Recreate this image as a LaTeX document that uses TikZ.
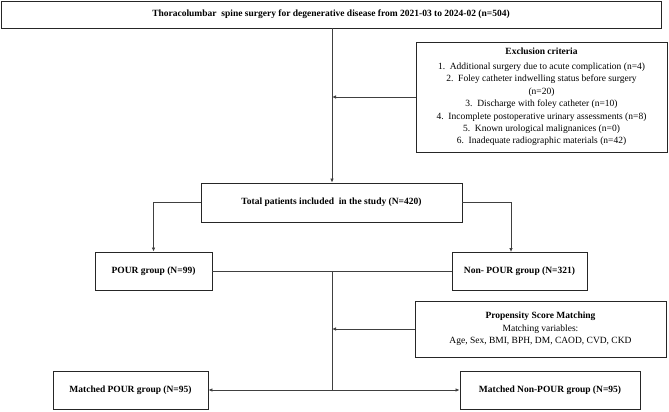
\documentclass[tikz,border=0pt]{standalone}
\usepackage{fontspec}
\setmainfont{Liberation Serif}
\usetikzlibrary{arrows.meta}
\tikzset{
  box/.style={draw=black!85, line width=0.9pt, rectangle, inner sep=0pt, align=center,
    font=\fontsize{9.5}{12.4}\selectfont},
  bbox/.style={box, font=\fontsize{9.5}{12.4}\selectfont\bfseries},
  conn/.style={draw=black!75, line width=0.8pt},
  arr/.style={conn, -{Latex[length=4pt,width=3.6pt]}}
}
\begin{document}
\begin{tikzpicture}[x=1pt,y=-1pt]
\useasboundingbox (0,0) rectangle (669,412);
% boxes
\node[bbox, minimum width=660pt, minimum height=27pt] (top) at (331,14.5)
  {Thoracolumbar\ \ spine surgery for degenerative disease from 2021-03 to 2024-02 (n=504)};
\node[box, minimum width=251pt, minimum height=110pt] (excl) at (541.5,97)
  {\textbf{Exclusion criteria}\\[2.6pt]
   1.\ \ Additional surgery due to acute complication (n=4)\\
   2.\ \ Foley catheter indwelling status before surgery\\
   (n=20)\\
   3.\ \ Discharge with foley catheter (n=10)\\
   4.\ \ Incomplete postoperative urinary assessments (n=8)\\
   5.\ \ Known urological malignanices (n=0)\\
   6.\ \ Inadequate radiographic materials (n=42)};
\node[bbox, minimum width=261pt, minimum height=39pt] (total) at (331.5,202.5)
  {Total patients included\ \ in the study (N=420)};
\node[bbox, minimum width=117pt, minimum height=38pt] (pour) at (153.5,271)
  {POUR group (N=99)};
\node[bbox, minimum width=135pt, minimum height=38pt] (nonpour) at (519.5,271)
  {Non- POUR group (N=321)};
\node[box, minimum width=251pt, minimum height=56pt] (psm) at (540.5,329)
  {\textbf{Propensity Score Matching}\\
   Matching variables:\\
   Age, Sex, BMI, BPH, DM, CAOD, CVD, CKD};
\node[bbox, minimum width=155pt, minimum height=38pt] (mpour) at (130.5,390)
  {Matched POUR group (N=95)};
\node[bbox, minimum width=180pt, minimum height=38pt] (mnon) at (550,390)
  {Matched Non-POUR group (N=95)};
% junctions
\coordinate (jA) at (332,97);
\coordinate (jB) at (332,271);
\coordinate (jC) at (332,329);
\coordinate (jD) at (332,390);
\coordinate (jR) at (511,252);
% connectors
\draw[arr] (top.south -| jA) -- (total.north -| jA);
\draw[arr] (excl.west) -- (jA);
\draw[arr] (total.west) -| (pour.north);
\draw[arr] (total.east) -| (jR);
\draw[conn] (pour.east) -- (nonpour.west);
\draw[conn] (jB) -- (jD);
\draw[arr] (psm.west) -- (jC);
\draw[arr] (jD) -- (mpour.east);
\draw[arr] (jD) -- (mnon.west);
\end{tikzpicture}
\end{document}
